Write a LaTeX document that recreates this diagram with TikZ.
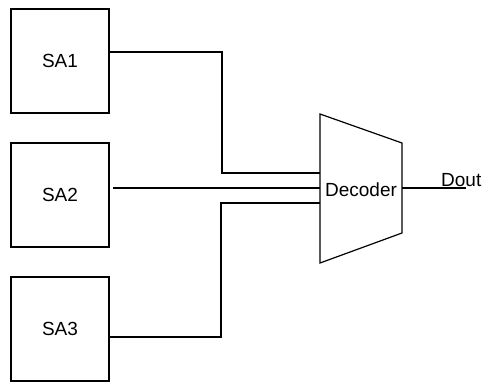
\documentclass[tikz,border=0pt]{standalone}
\usepackage{fontspec}
\setmainfont{Liberation Sans}
\usetikzlibrary{positioning}
\tikzset{
  amp/.style={
    draw,
    line width=1.2pt,
    minimum width=98pt,
    minimum height=104pt,
    inner sep=0pt,
    outer sep=0pt,
    font=\fontsize{19}{21}\selectfont
  },
  wire/.style={
    line width=1.2pt
  },
  lbl/.style={
    inner sep=0pt,
    font=\fontsize{19}{21}\selectfont
  }
}
\begin{document}
\begin{tikzpicture}[x=1pt,y=-1pt,node distance=30pt]
\useasboundingbox (0,0) rectangle (484,383);
\node[amp] (sa1) at (60,61) {SA1};
\node[amp, below=of sa1] (sa2) {SA2};
\node[amp, below=of sa2] (sa3) {SA3};
% decoder
\coordinate (dtl) at (320,114);
\coordinate (dtr) at (402,143);
\coordinate (dbr) at (402,233);
\coordinate (dbl) at (320,263);
\draw[wire] (dtl) -- (dtr) -- (dbr) -- (dbl) -- cycle;
\node[lbl] (dec) at (361,190) {Decoder};
\coordinate (in1) at (320,173);
\coordinate (in2) at (320,188);
\coordinate (in3) at (320,203);
\coordinate (dout) at (402,188);
\coordinate (outend) at (466,188);
% wires
\draw[wire] ([yshift=9pt]sa1.east) -- ++(113,0) |- (in1);
\draw[wire, shorten <=4pt] (sa2.east |- in2) -- (in2);
\draw[wire] ([yshift=-8pt]sa3.east) -- ++(112,0) |- (in3);
\draw[wire] (dout) -- (outend);
\node[lbl, anchor=base west] (doutlbl) at (441,186) {Dout};
\end{tikzpicture}
\end{document}
